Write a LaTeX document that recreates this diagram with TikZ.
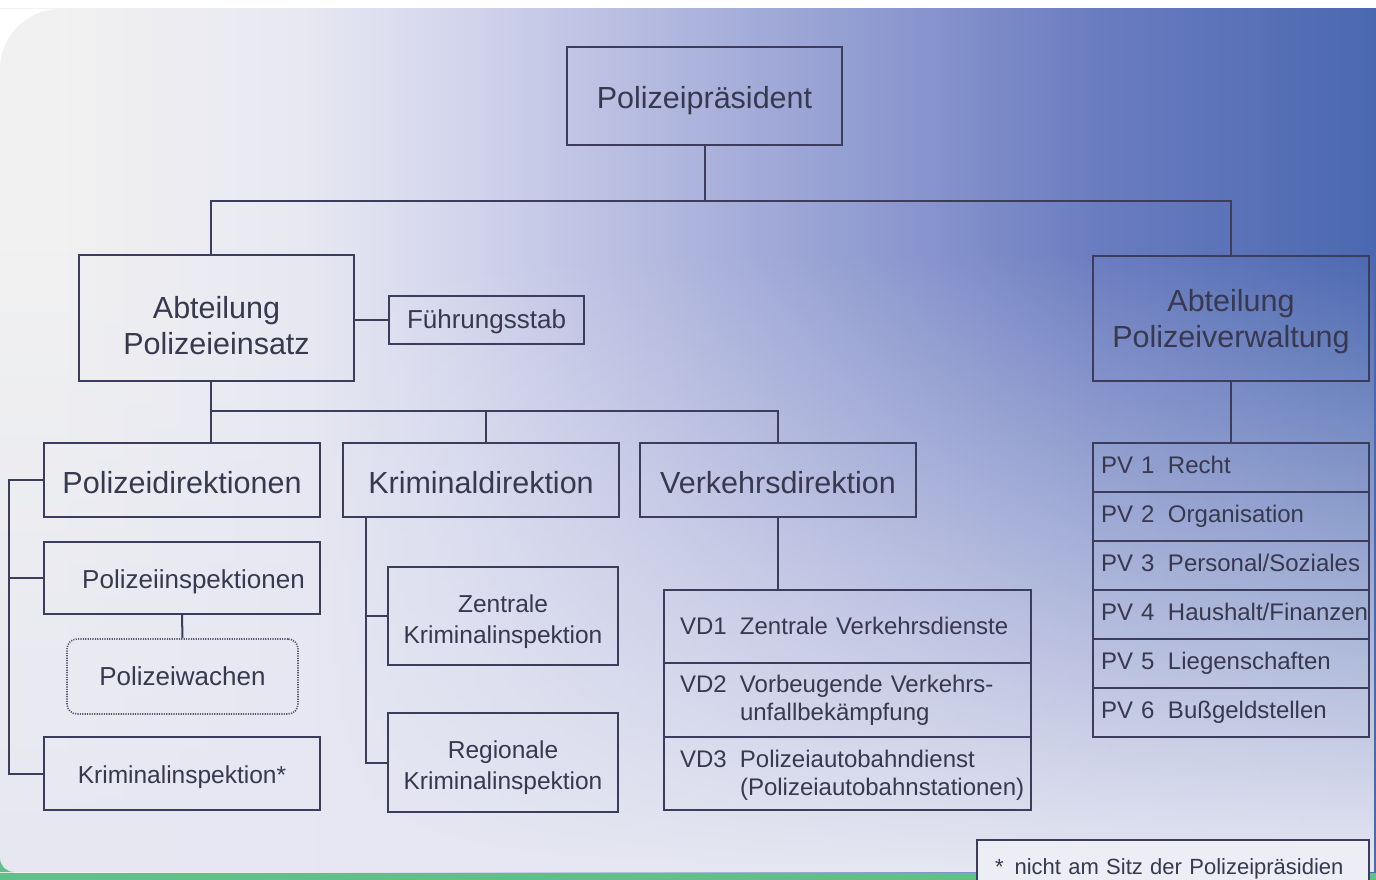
\documentclass[tikz,border=0pt]{standalone}
\usepackage{fontspec}
\setmainfont{Liberation Sans}
\usepackage{tikz}
\usetikzlibrary{positioning,fadings}

\definecolor{Linie}{HTML}{3C3C5C}
\definecolor{Schrift}{HTML}{38384F}
\definecolor{Gruen}{HTML}{62BF8A}
\definecolor{HellGrau}{HTML}{E6E7F2}
\definecolor{FussFarbe}{HTML}{ECEDF5}
\definecolor{hgA}{HTML}{F1F1F1}
\definecolor{hgB}{HTML}{E8E8F2}
\definecolor{hgC}{HTML}{D2D4EC}
\definecolor{hgD}{HTML}{AEB5DD}
\definecolor{hgE}{HTML}{8A96CE}
\definecolor{hgF}{HTML}{6A7CC0}
\definecolor{hgG}{HTML}{4A68B0}
\pgfdeclarehorizontalshading{Hintergrund}{100bp}{color(0bp)=(hgA); color(27bp)=(hgA); color(36bp)=(hgB); color(42bp)=(hgC); color(50bp)=(hgD); color(58bp)=(hgE); color(65bp)=(hgF); color(75bp)=(hgG); color(100bp)=(hgG)}
\tikzfading[name=HellUnten, top color=transparent!100, bottom color=transparent!0]

\newcommand{\SchriftGross}{\fontsize{30.5}{36}\selectfont}
\newcommand{\SchriftMittel}{\fontsize{26}{30}\selectfont}
\newcommand{\SchriftKlein}{\fontsize{24.5}{31}\selectfont}
\newcommand{\SchriftListe}{\fontsize{24}{28}\selectfont}
\newcommand{\SchriftFuss}{\fontsize{22}{26}\selectfont}

\begin{document}
\begin{tikzpicture}[
		x=1pt, y=-1pt,
		Kasten/.style={draw=Linie, line width=2pt, text=Schrift, align=center, inner sep=0pt},
		Unten/.style={text height=#1, text depth=0pt},
		Oben/.style={text height=0pt, text depth=#1},
		Abteilung/.style={Kasten, font=\SchriftGross, minimum width=275pt, minimum height=126pt},
		Direktion/.style={Kasten, font=\SchriftGross, minimum width=276pt, minimum height=74pt, Unten=26pt},
		Inspektion/.style={Kasten, font=\SchriftMittel, minimum width=276pt, minimum height=73pt},
		KriminalKasten/.style={Kasten, font=\SchriftKlein, minimum width=230pt, minimum height=98pt},
		VDZeile/.style={Kasten, font=\SchriftListe, align=left, text width=335pt, inner xsep=16pt, minimum height=73.5pt},
		PVZeile/.style={Kasten, font=\SchriftListe, align=left, text width=260pt, inner xsep=8pt, minimum height=49pt, Unten=11pt},
		Wache/.style={draw=Linie!85, line width=1.6pt, dash pattern=on 1.2pt off 1.2pt, rounded corners=10pt, text=Schrift, font=\SchriftMittel, minimum width=231pt, minimum height=75pt},
		Leitung/.style={draw=Linie, line width=2pt}
		]
		\clip (0,0) rectangle (1376,880);
		
		% Hintergrund
		\fill[white] (0,0) rectangle (1376,880);
		\fill[Gruen] (0,840) rectangle (1376,880);
		\shade[shading=Hintergrund] (0,9) rectangle (1376,872);
		\fill[HellGrau, path fading=HellUnten] (0,250) rectangle (1376,872);
		\fill[white] (0,9) -- (60,9) arc[start angle=-90, end angle=-180, radius=60] -- cycle;
		\fill[Gruen] (0,872) -- (0,858) arc[start angle=180, end angle=90, radius=14] -- cycle;
		
		% Leitung
		\node[Abteilung, minimum height=98pt, Unten=26pt] (praes) at (704.5,96) {Polizeipräsident};
		\node[Abteilung, Unten=72pt] (einsatz) at (216.5,318) {Abteilung\\Polizeieinsatz};
		\node[Kasten, font=\SchriftMittel, minimum width=195pt, minimum height=48pt, Unten=16pt] (stab) at (486.5,320) {Führungsstab};
		\node[Abteilung, minimum width=276pt, minimum height=125pt, Unten=57pt] (verwaltung) at (1231,318.5) {Abteilung\\Polizeiverwaltung};
		
		\coordinate (ObenLinks) at (211,201);
		\coordinate (MitteLinks) at (211,411);
		\coordinate (KrimiAst) at (486,411);
		\coordinate (KrimiLinie) at (366,517);
		
		\draw[Leitung] (praes.south) -- (praes.south |- ObenLinks);
		\draw[Leitung] (einsatz.north -| ObenLinks) -- (ObenLinks) -| (verwaltung.north);
		\draw[Leitung] (einsatz.east |- stab.west) -- (stab.west);
		
		% Direktionen
		\node[Direktion] (pdir) at (182,480) {Polizeidirektionen};
		\node[Direktion] (kdir) at (481,480) {Kriminaldirektion};
		\node[Direktion] (vdir) at (778,480) {Verkehrsdirektion};
		
		\draw[Leitung] (einsatz.south -| MitteLinks) -- (pdir.north -| MitteLinks);
		\draw[Leitung] (MitteLinks) -| (vdir.north);
		\draw[Leitung] (KrimiAst) -- (kdir.north -| KrimiAst);
		
		\node[Inspektion, minimum height=72pt, Unten=20pt] (pinsp) at (182,578) {\hspace*{23pt}Polizeiinspektionen};
		\node[Wache, Unten=17pt] (wachen) at (182.5,676.5) {Polizeiwachen};
		\node[Inspektion, font=\SchriftKlein, Unten=19pt] (kinsp) at (182,773.5) {Kriminalinspektion*};
		
		\draw[Leitung] (pinsp.south) -- (wachen.north);
		\draw[Leitung] (pdir.west) -- ++(-34,0) |- (kinsp.west);
		\draw[Leitung] (pinsp.west) -- ++(-34,0);
		
		\node[KriminalKasten, Unten=55pt] (zki) at (503,615.5) {Zentrale\\Kriminalinspektion};
		\node[KriminalKasten, minimum height=99pt, Unten=53pt] (rki) at (503,762.5) {Regionale\\Kriminalinspektion};
		
		\draw[Leitung] (kdir.south -| KrimiLinie) |- (rki.west);
		\draw[Leitung] (KrimiLinie |- zki.west) -- (zki.west);
		
		\node[VDZeile, Unten=15pt] (vd1) at (847.5,626.5) {\makebox[60pt][l]{VD1}Zentrale Verkehrsdienste};
		\node[VDZeile, Oben=16pt] (vd2) at (847.5,700) {\makebox[60pt][l]{VD2}Vorbeugende Verkehrs-\\\hspace*{60pt}unfallbekämpfung};
		\node[VDZeile, Oben=13pt] (vd3) at (847.5,773.5) {\makebox[60pt][l]{VD3}Polizeiautobahndienst\\\hspace*{60pt}\mbox{(Polizeiautobahnstationen)}};
		
		\draw[Leitung] (vdir.south) -- (vdir.south |- vd1.north);
		
		% Polizeiverwaltung
		\foreach \nr/\bez in {1/Recht, 2/Organisation, 3/{Personal/Soziales}, 4/{Haushalt/Finanzen}, 5/Liegenschaften, 6/Bußgeldstellen}
		\node[PVZeile] (pv\nr) at (1231,418.5+49*\nr) {\makebox[67pt][l]{PV \nr}\bez};
		
		\draw[Leitung] (verwaltung.south) -- (pv1.north);
		
		%\node at (1173,860) {};
		\node[Kasten, font=\SchriftFuss, fill=FussFarbe, align=left, text width=356pt, inner xsep=18pt, minimum height=44pt, Unten=24pt] (fuss) at (1173,862) {*\hspace{11pt}nicht am Sitz der Polizeipräsidien};
		
\end{tikzpicture}
\end{document}
